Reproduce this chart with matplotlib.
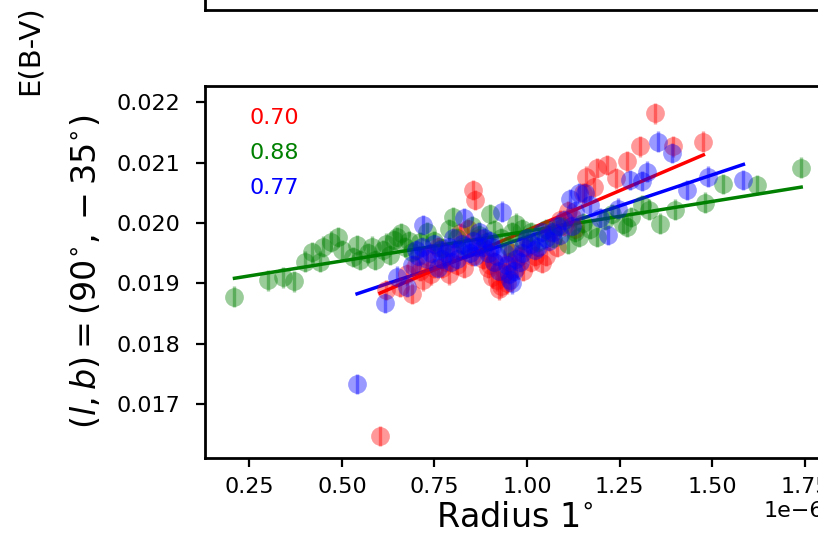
import numpy as np
import matplotlib
matplotlib.use('Agg')
import matplotlib.pyplot as plt

# radius values in units of 1e-6, E(B-V) values
green_x = [0.21, 0.30, 0.34, 0.37, 0.40, 0.42, 0.44, 0.45, 0.47, 0.49, 0.50, 0.53, 0.54, 0.55,
           0.57, 0.58, 0.59, 0.61, 0.62, 0.63, 0.64, 0.65, 0.66, 0.67, 0.68, 0.69, 0.71, 0.73,
           0.75, 0.77, 0.79, 0.80, 0.81, 0.83, 0.85, 0.87, 0.89, 0.90, 0.91, 0.93, 0.95, 0.96,
           0.97, 0.985, 0.99, 1.01, 1.03, 1.05, 1.07, 1.09, 1.11, 1.13, 1.14, 1.15, 1.17, 1.19,
           1.21, 1.23, 1.26, 1.27, 1.28, 1.31, 1.33, 1.36, 1.40, 1.48, 1.53, 1.62, 1.74]
green_y = [0.01878, 0.01905, 0.01910, 0.01903, 0.01936, 0.01952, 0.01936, 0.01961, 0.01969,
           0.01977, 0.01955, 0.01944, 0.01963, 0.01939, 0.01950, 0.01961, 0.01939, 0.01955,
           0.01966, 0.01947, 0.01972, 0.01977, 0.01983, 0.01960, 0.01970, 0.01952, 0.01968,
           0.01985, 0.01970, 0.01958, 0.01990, 0.02010, 0.01975, 0.01962, 0.01995, 0.01980,
           0.01968, 0.02015, 0.01988, 0.01975, 0.01960, 0.01985, 0.01999, 0.01990, 0.01972,
           0.01985, 0.01968, 0.01990, 0.01975, 0.01995, 0.01965, 0.01985, 0.01977, 0.02000,
           0.01990, 0.01977, 0.02005, 0.02015, 0.01999, 0.01993, 0.02010, 0.02030, 0.02022,
           0.01999, 0.02022, 0.02034, 0.02065, 0.02063, 0.02092]

red_x = [0.603, 0.62, 0.657, 0.675, 0.688, 0.70, 0.71, 0.72, 0.73, 0.74, 0.75, 0.76, 0.77,
         0.78, 0.79, 0.80, 0.81, 0.82, 0.83, 0.84, 0.85, 0.855, 0.86, 0.87, 0.88, 0.89, 0.895,
         0.90, 0.905, 0.91, 0.918, 0.925, 0.93, 0.935, 0.94, 0.945, 0.95, 0.96, 0.97, 0.98,
         0.99, 1.00, 1.01, 1.02, 1.04, 1.05, 1.06, 1.07, 1.08, 1.09, 1.10, 1.11, 1.12, 1.13,
         1.15, 1.16, 1.18, 1.19, 1.215, 1.24, 1.27, 1.305, 1.345, 1.395, 1.476]
red_y = [0.01647, 0.01889, 0.01894, 0.01915, 0.01883, 0.01930, 0.01920, 0.01905, 0.01945,
         0.01915, 0.01925, 0.01960, 0.01925, 0.01935, 0.01915, 0.01950, 0.01930, 0.01983,
         0.01925, 0.01990, 0.01945, 0.02055, 0.02038, 0.01975, 0.01940, 0.01955, 0.01925,
         0.01930, 0.01910, 0.01935, 0.01905, 0.01890, 0.01895, 0.01915, 0.01918, 0.01900,
         0.01935, 0.01950, 0.01925, 0.01945, 0.01920, 0.01960, 0.01935, 0.01945, 0.01934,
         0.01945, 0.01985, 0.01990, 0.01960, 0.02005, 0.01995, 0.02020, 0.02010, 0.01990,
         0.02049, 0.02077, 0.02060, 0.02091, 0.02096, 0.02074, 0.02102, 0.02127, 0.02182,
         0.02127, 0.02135]

blue_x = [0.541, 0.616, 0.648, 0.675, 0.69, 0.70, 0.705, 0.715, 0.72, 0.73, 0.74, 0.75, 0.76,
          0.765, 0.77, 0.78, 0.79, 0.795, 0.80, 0.81, 0.815, 0.825, 0.83, 0.84, 0.845, 0.855,
          0.86, 0.865, 0.87, 0.88, 0.885, 0.895, 0.90, 0.905, 0.91, 0.92, 0.925, 0.932, 0.94,
          0.945, 0.95, 0.955, 0.96, 0.965, 0.97, 0.98, 0.985, 0.99, 1.00, 1.01, 1.02, 1.03, 1.04,
          1.05, 1.06, 1.07, 1.08, 1.09, 1.10, 1.115, 1.12, 1.13, 1.14, 1.156, 1.17, 1.197,
          1.219, 1.246, 1.278, 1.31, 1.323, 1.354, 1.39, 1.431, 1.489, 1.584]
blue_y = [0.01733, 0.01867, 0.01911, 0.01894, 0.01930, 0.01955, 0.01945, 0.01960, 0.01997,
          0.01940, 0.01950, 0.01965, 0.01925, 0.01955, 0.01940, 0.01950, 0.01960, 0.01935,
          0.01975, 0.01940, 0.01955, 0.01965, 0.02008, 0.01960, 0.01950, 0.01970, 0.01945,
          0.01960, 0.01985, 0.01960, 0.01975, 0.01950, 0.01970, 0.01960, 0.01935, 0.01945,
          0.01920, 0.02019, 0.01950, 0.01930, 0.01915, 0.01905, 0.01900, 0.01920, 0.01940,
          0.01935, 0.01950, 0.01960, 0.01975, 0.01965, 0.01955, 0.01960, 0.01985, 0.01975,
          0.01970, 0.01985, 0.01995, 0.01980, 0.02005, 0.02040, 0.01995, 0.02020, 0.02050,
          0.02049, 0.02030, 0.02008, 0.01980, 0.02024, 0.02071, 0.02070, 0.02085, 0.02135,
          0.02116, 0.02055, 0.02077, 0.02071]

err = 0.00017

# linear fits: slope (per 1e-6), intercept
fits = {'r': (0.002625, 0.017255), 'g': (0.000988, 0.018876), 'b': (0.002057, 0.017713)}
corr = {'r': '0.70', 'g': '0.88', 'b': '0.77'}

series = [('r', red_x, red_y), ('g', green_x, green_y), ('b', blue_x, blue_y)]

fig = plt.figure(figsize=(8.18, 5.42), dpi=100)

# upper panel, only its bottom edge shows
top = fig.add_axes([205/818, 1 - 10/542, 619/818, 0.3])
top.set_xticks([])
top.set_yticks([])
for s in top.spines.values():
    s.set_linewidth(2)

ax = fig.add_axes([205/818, 84/542, 619/818, 372.3/542])

for c, xs, ys in series:
    xs = np.array(xs) * 1e-6
    ax.errorbar(xs, ys, yerr=err, fmt='o', color=c, alpha=0.4, ms=13.5,
                elinewidth=2.4, capsize=0, markeredgewidth=0)
for c, xs, ys in series:
    m, b = fits[c]
    xl = np.array([min(xs), max(xs)])
    ax.plot(xl * 1e-6, m * xl + b, color=c, lw=2.5)

for i, (c, xs, ys) in enumerate(series):
    ax.text(0.25e-6, 0.02174 - i * 0.00058, corr[c], color=c, fontsize=16,
            ha='left', va='center')

ax.set_xlim(0.1304e-6, 1.8016e-6)
ax.set_ylim(0.016103, 0.022277)
ax.set_xticks(np.array([0.25, 0.5, 0.75, 1.0, 1.25, 1.5, 1.75]) * 1e-6)
ax.set_yticks([0.017, 0.018, 0.019, 0.020, 0.021, 0.022])
ax.tick_params(labelsize=16, length=6.5, width=1.6)
ax.tick_params(axis='y', pad=11)
ax.tick_params(axis='x', pad=7)
ax.xaxis.get_offset_text().set_fontsize(16)
for s in ax.spines.values():
    s.set_linewidth(2)

ax.set_xlabel(r'Radius $1^{\circ}$', fontsize=24)
ax.xaxis.set_label_coords(0.5, -0.115)
ax.set_ylabel(r'$(l, b) = (90^{\circ}, -35^{\circ})$', fontsize=24)
ax.yaxis.set_label_coords(-0.165, 0.5)

fig.text(30/818, 1 - 50/542, 'E(B-V)', rotation=90, fontsize=21, ha='center', va='center')

fig.savefig('out.png', dpi=100)
